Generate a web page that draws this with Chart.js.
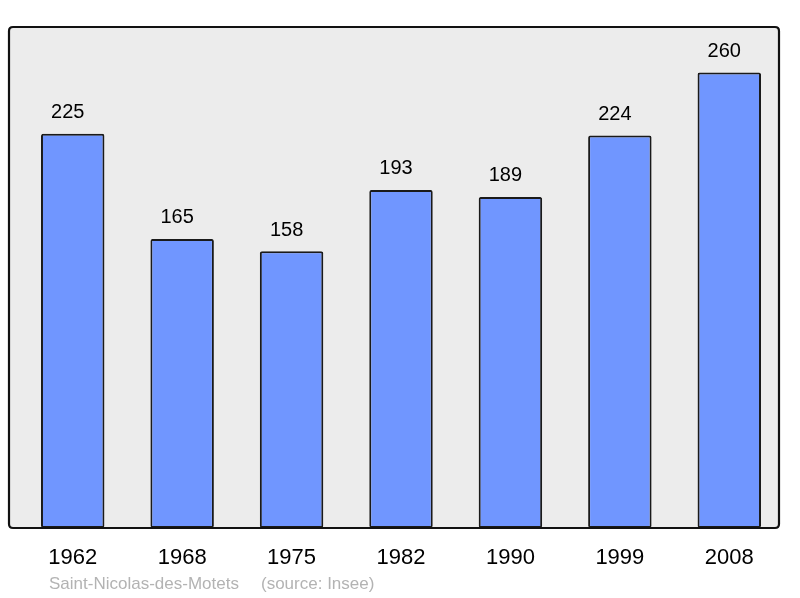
<!DOCTYPE html>
<html><head><meta charset="utf-8">
<script src="https://cdn.jsdelivr.net/npm/chart.js@4/dist/chart.umd.min.js"></script>
<style>html,body{margin:0;padding:0;background:#fff;}#wrap{width:800px;height:598px;}</style>
</head><body><div id="wrap"><canvas id="c"></canvas></div>
<script>
const years = ["1962","1968","1975","1982","1990","1999","2008"];
const population = [225,165,158,193,189,224,260];
const footerName = "Saint-Nicolas-des-Motets";
const footerSource = "(source: Insee)";

function framePath(ctx, x0, y0, x1, y1, r) {
  ctx.beginPath();
  ctx.moveTo(x0 + r, y0);
  ctx.lineTo(x1 - r, y0); ctx.quadraticCurveTo(x1, y0, x1, y0 + r);
  ctx.lineTo(x1, y1 - r); ctx.quadraticCurveTo(x1, y1, x1 - r, y1);
  ctx.lineTo(x0 + r, y1); ctx.quadraticCurveTo(x0, y1, x0, y1 - r);
  ctx.lineTo(x0, y0 + r); ctx.quadraticCurveTo(x0, y0, x0 + r, y0);
  ctx.closePath();
}

const framePlugin = {
  id: 'frame',
  beforeDraw(chart) {
    const ctx = chart.ctx;
    const a = chart.chartArea;
    ctx.save();
    framePath(ctx, 9, a.top, 779, a.bottom, 4);
    ctx.fillStyle = '#ececec';
    ctx.fill();
    ctx.restore();
  },
  afterDatasetsDraw(chart) {
    const ctx = chart.ctx;
    const a = chart.chartArea;
    ctx.save();
    framePath(ctx, 9, a.top, 779, a.bottom, 4);
    ctx.lineWidth = 2.2;
    ctx.strokeStyle = '#111';
    ctx.stroke();
    const meta = chart.getDatasetMeta(0);
    ctx.fillStyle = '#000';
    ctx.font = '20px "Liberation Sans", Arial, sans-serif';
    ctx.textAlign = 'center';
    ctx.textBaseline = 'middle';
    meta.data.forEach((bar, i) => {
      ctx.fillText(String(population[i]), bar.x - 5, bar.y - 21);
    });
    ctx.fillStyle = '#b3b3b3';
    ctx.font = '17px "Liberation Sans", Arial, sans-serif';
    ctx.textAlign = 'left';
    ctx.fillText(footerName, 49, 584);
    ctx.fillText(footerSource, 261, 584);
    ctx.restore();
  }
};

new Chart(document.getElementById('c'), {
  type: 'bar',
  data: {
    labels: years,
    datasets: [{
      data: population,
      backgroundColor: '#7096ff',
      borderColor: '#1a1a1a',
      borderWidth: 2,
      borderRadius: 2,
      borderSkipped: false,
      barPercentage: 0.58,
      categoryPercentage: 1.0
    }]
  },
  options: {
    responsive: true,
    maintainAspectRatio: false,
    animation: false,
    devicePixelRatio: 1,
    layout: { padding: { left: 18, right: 16, top: 27, bottom: 0 } },
    plugins: { legend: { display: false }, tooltip: { enabled: false } },
    scales: {
      x: {
        display: true,
        grid: { display: false, drawTicks: false },
        border: { display: false },
        ticks: { color: '#000', font: { size: 22, family: '"Liberation Sans", Arial, sans-serif' }, padding: 17, maxRotation: 0 },
        afterFit(scale) { scale.height = 70; }
      },
      y: {
        display: false,
        min: 0,
        max: 286
      }
    }
  },
  plugins: [framePlugin]
});
</script>
</body></html>
